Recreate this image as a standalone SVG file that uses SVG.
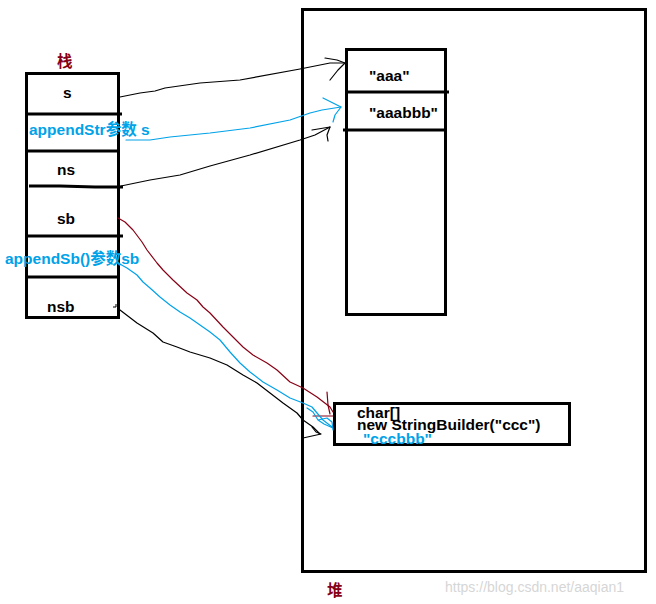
<svg xmlns="http://www.w3.org/2000/svg" width="656" height="604" viewBox="0 0 656 604">
<style>
.box{fill:none;stroke:#000;stroke-width:3}
.div{stroke:#000;stroke-width:3;fill:none}
.t{font-family:"Liberation Sans","Noto Sans CJK SC",sans-serif;font-weight:bold;font-size:15.5px;fill:#000}
.b{fill:#00A2E8}
.r{fill:#880015}
.c{fill:none;stroke-width:1.2;stroke-linejoin:round;stroke-linecap:round}
.k{stroke:#000}
.bl{stroke:#00A2E8}
.dr{stroke:#880015}
</style>
<rect width="656" height="604" fill="#fff"/>
<g id="stack">
  <text class="t r" x="57" y="67">栈</text>
  <rect class="box" x="26.5" y="73.5" width="92" height="244"/>
  <path class="div" d="M26 114H122 M26 151H119 M29 186L60 186L95 187L123 187 M26 236H123 M26 277H119"/>
  <path d="M113 307L116 307L116 304" stroke="#000" stroke-width="1" fill="none"/>
</g>
<g id="s"><text class="t" x="63" y="98">s</text></g>
<g id="appendStr"><text class="t b" x="29" y="135">appendStr参数 s</text></g>
<g id="ns"><text class="t" x="57" y="175">ns</text></g>
<g id="sb"><text class="t" x="57" y="224">sb</text></g>
<g id="appendSb"><text class="t b" x="5" y="264">appendSb()参数sb</text></g>
<g id="nsb"><text class="t" x="47" y="312">nsb</text></g>
<g id="heap">
  <rect class="box" x="302.5" y="9.5" width="343" height="562"/>
  <text class="t r" x="327" y="596">堆</text>
</g>
<g id="strings">
  <rect class="box" x="346.5" y="49.5" width="99" height="265"/>
  <path class="div" d="M346 92H449 M343 130H446"/>
  <text class="t" x="369" y="81">"aaa"</text>
  <text class="t" x="369" y="118">"aaabbb"</text>
</g>
<g id="stringbuilder">
  <rect class="box" x="334.5" y="403.5" width="235" height="41"/>
  <text class="t" x="357" y="418">char[]</text>
  <text class="t" x="357" y="430">new StringBuilder("ccc")</text>
  <text class="t b" x="363" y="444">"cccbbb"</text>
</g>
<g id="connectors">
  <path class="c k" d="M120 97L140 93L155 91L165 88L200 83L240 80L300 69L330 63L345 63"/>
  <path class="c k" d="M325 58L337 60L345 63L338 70L330 80"/>
  <path class="c bl" d="M126 140L150 140L170 137L210 133L250 128L290 120L310 113L322 110L341 107"/>
  <path class="c bl" d="M323 98L333 103L341 107L335 115L333 122"/>
  <path class="c k" d="M121 186L150 180L180 175L210 166L250 155L300 140L315 135L330 127"/>
  <path class="c k" d="M312 130L330 127L327 135L328 141"/>
  <path class="c dr" d="M118 218L125 222L133 230L142 242L147 250L157 263L163 270L173 280L187 293L197 300L203 307L210 313L223 327L233 337L243 347L253 355L267 363L277 370L290 382L303 388L317 397L330 407L333 412"/>
  <path class="c dr" d="M327 392L328 405L330 414 M313 416L333 416"/>
  <path class="c bl" d="M118 263L127 268L137 275L143 282L150 288L160 297L170 305L180 312L190 318L200 325L210 332L220 340L230 352L240 363L250 372L263 382L277 390L290 398L303 403L312 407L317 413L323 420L332 427"/>
  <path class="c bl" d="M307 408L313 412L318 420L324 424L333 428 M318 420L327 418L332 422L333 430"/>
  <path class="c k" d="M120 310L137 323L153 333L163 342L177 347L190 352L210 358L227 365L243 375L257 383L270 393L283 403L297 413L303 420L313 427L320 434"/>
  <path class="c k" d="M303 438L312 436L321 434 M312 427L316 432L321 434"/>
</g>
<text x="445" y="592" font-family="Liberation Sans,sans-serif" font-size="14" fill="#d6d6d6">https://blog.csdn.net/aaqian1</text>
</svg>
